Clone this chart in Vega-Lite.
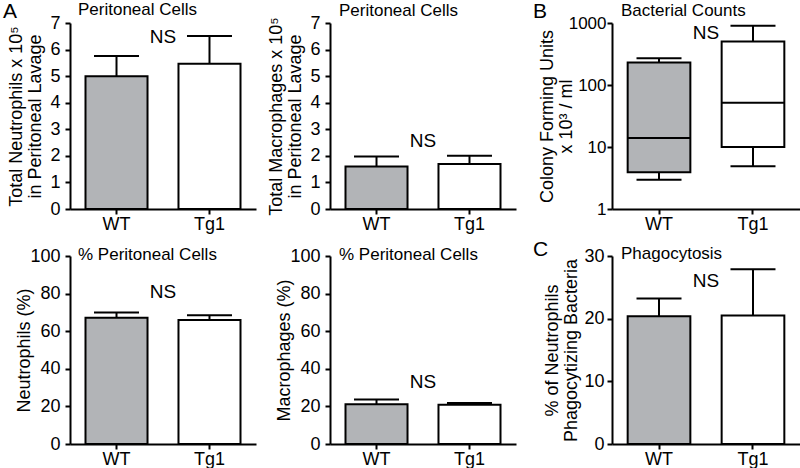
{
  "$schema": "https://vega.github.io/schema/vega-lite/v6.json",
  "background": "white",
  "padding": {"left": 3, "top": 0, "right": 0, "bottom": 0},
  "columns": 5,
  "spacing": {"row": 47, "column": 0},
  "bounds": "flush",
  "align": "each",
  "concat": [
    {
      "width": 186, "height": 186,
      "title": {"text": "Peritoneal Cells", "dx": 8, "offset": -18},
      "data": {"values": [{"group": "WT", "mean": 5.0, "upper": 5.76}, {"group": "Tg1", "mean": 5.47, "upper": 6.51}]},
      "encoding": {"x": {"field": "group", "type": "nominal", "sort": ["WT", "Tg1"], "scale": {"paddingInner": 0.333, "paddingOuter": 0.1667}, "axis": {"title": null}}},
      "layer": [
        {"mark": {"type": "bar", "stroke": "black", "strokeWidth": 2, "opacity": 1}, "encoding": {"y": {"field": "mean", "type": "quantitative", "scale": {"domain": [0, 7]}, "axis": {"title": ["Total Neutrophils x 10⁵", "in Peritoneal Lavage"], "values": [0, 1, 2, 3, 4, 5, 6, 7], "labelOverlap": false}}, "color": {"field": "group", "type": "nominal", "scale": {"domain": ["WT", "Tg1"], "range": ["#b2b4b7", "#ffffff"]}, "legend": null}}},
        {"mark": {"type": "rule", "color": "black", "strokeWidth": 2, "opacity": 1}, "encoding": {"y": {"field": "mean", "type": "quantitative", "axis": {"title": ["Total Neutrophils x 10⁵", "in Peritoneal Lavage"], "values": [0, 1, 2, 3, 4, 5, 6, 7], "labelOverlap": false}}, "y2": {"field": "upper"}}},
        {"mark": {"type": "tick", "color": "black", "thickness": 2, "size": 45, "opacity": 1}, "encoding": {"y": {"field": "upper", "type": "quantitative", "axis": {"title": ["Total Neutrophils x 10⁵", "in Peritoneal Lavage"], "values": [0, 1, 2, 3, 4, 5, 6, 7], "labelOverlap": false}}}},
        {"data": {"values": [{"note": "NS", "pos": 6.49}]}, "mark": {"type": "text", "fontSize": 19, "baseline": "middle", "color": "black"}, "encoding": {"x": {"datum": "WT", "bandPosition": 1.25}, "y": {"field": "pos", "type": "quantitative", "axis": {"title": ["Total Neutrophils x 10⁵", "in Peritoneal Lavage"], "values": [0, 1, 2, 3, 4, 5, 6, 7], "labelOverlap": false}}, "text": {"field": "note"}}},
        {"data": {"values": [{"note": "A", "pos": 7.188}]}, "mark": {"type": "text", "fontSize": 21, "align": "left", "baseline": "alphabetic", "color": "black"}, "encoding": {"x": {"datum": "WT", "bandPosition": -1.33}, "y": {"field": "pos", "type": "quantitative", "axis": {"title": ["Total Neutrophils x 10⁵", "in Peritoneal Lavage"], "values": [0, 1, 2, 3, 4, 5, 6, 7], "labelOverlap": false}}, "text": {"field": "note"}}}
      ]
    },
    {"width": 74, "height": 10, "data": {"values": []}, "mark": {"type": "point", "opacity": 0}, "encoding": {}},
    {
      "width": 186, "height": 186,
      "title": {"text": "Peritoneal Cells", "dx": 9, "offset": -6},
      "data": {"values": [{"group": "WT", "mean": 1.60, "upper": 1.98}, {"group": "Tg1", "mean": 1.69, "upper": 2.0}]},
      "encoding": {"x": {"field": "group", "type": "nominal", "sort": ["WT", "Tg1"], "scale": {"paddingInner": 0.333, "paddingOuter": 0.1667}, "axis": {"title": null}}},
      "layer": [
        {"mark": {"type": "bar", "stroke": "black", "strokeWidth": 2, "opacity": 1}, "encoding": {"y": {"field": "mean", "type": "quantitative", "scale": {"domain": [0, 7]}, "axis": {"title": ["Total Macrophages x 10⁵", "in Peritoneal Lavage"], "values": [0, 1, 2, 3, 4, 5, 6, 7], "labelOverlap": false}}, "color": {"field": "group", "type": "nominal", "scale": {"domain": ["WT", "Tg1"], "range": ["#b2b4b7", "#ffffff"]}, "legend": null}}},
        {"mark": {"type": "rule", "color": "black", "strokeWidth": 2, "opacity": 1}, "encoding": {"y": {"field": "mean", "type": "quantitative", "axis": {"title": ["Total Macrophages x 10⁵", "in Peritoneal Lavage"], "values": [0, 1, 2, 3, 4, 5, 6, 7], "labelOverlap": false}}, "y2": {"field": "upper"}}},
        {"mark": {"type": "tick", "color": "black", "thickness": 2, "size": 45, "opacity": 1}, "encoding": {"y": {"field": "upper", "type": "quantitative", "axis": {"title": ["Total Macrophages x 10⁵", "in Peritoneal Lavage"], "values": [0, 1, 2, 3, 4, 5, 6, 7], "labelOverlap": false}}}},
        {"data": {"values": [{"note": "NS", "pos": 2.56}]}, "mark": {"type": "text", "fontSize": 19, "baseline": "middle", "color": "black"}, "encoding": {"x": {"datum": "WT", "bandPosition": 1.25}, "y": {"field": "pos", "type": "quantitative", "axis": {"title": ["Total Macrophages x 10⁵", "in Peritoneal Lavage"], "values": [0, 1, 2, 3, 4, 5, 6, 7], "labelOverlap": false}}, "text": {"field": "note"}}}
      ]
    },
    {"width": 96, "height": 10, "data": {"values": []}, "mark": {"type": "point", "opacity": 0}, "encoding": {}},
    {
      "width": 188, "height": 186,
      "title": {"text": "Bacterial Counts", "dx": 9, "offset": -19},
      "data": {"values": [{"group": "WT", "min": 2.95, "q1": 3.9, "median": 14, "q3": 230, "max": 270}, {"group": "Tg1", "min": 4.9, "q1": 10, "median": 51.5, "q3": 503, "max": 904}]},
      "encoding": {"x": {"field": "group", "type": "nominal", "sort": ["WT", "Tg1"], "scale": {"paddingInner": 0.333, "paddingOuter": 0.1667}, "axis": {"title": null}}},
      "layer": [
        {"mark": {"type": "rule", "color": "black", "strokeWidth": 2, "opacity": 1}, "encoding": {"y": {"field": "min", "type": "quantitative", "scale": {"type": "log", "domain": [1, 1000]}, "axis": {"title": ["Colony Forming Units", "x 10³ / ml"], "values": [1, 10, 100, 1000], "format": "d", "labelPadding": 1, "labelFontSize": 17, "titlePadding": -7, "labelOverlap": false}}, "y2": {"field": "max"}}},
        {"mark": {"type": "tick", "color": "black", "thickness": 2, "size": 45, "opacity": 1}, "encoding": {"y": {"field": "min", "type": "quantitative", "axis": {"title": ["Colony Forming Units", "x 10³ / ml"], "values": [1, 10, 100, 1000], "format": "d", "labelPadding": 1, "labelFontSize": 17, "titlePadding": -7, "labelOverlap": false}}}},
        {"mark": {"type": "tick", "color": "black", "thickness": 2, "size": 45, "opacity": 1}, "encoding": {"y": {"field": "max", "type": "quantitative", "axis": {"title": ["Colony Forming Units", "x 10³ / ml"], "values": [1, 10, 100, 1000], "format": "d", "labelPadding": 1, "labelFontSize": 17, "titlePadding": -7, "labelOverlap": false}}}},
        {"mark": {"type": "bar", "stroke": "black", "strokeWidth": 2, "opacity": 1}, "encoding": {"y": {"field": "q1", "type": "quantitative", "axis": {"title": ["Colony Forming Units", "x 10³ / ml"], "values": [1, 10, 100, 1000], "format": "d", "labelPadding": 1, "labelFontSize": 17, "titlePadding": -7, "labelOverlap": false}}, "y2": {"field": "q3"}, "color": {"field": "group", "type": "nominal", "scale": {"domain": ["WT", "Tg1"], "range": ["#a7a7a7", "#ffffff"]}, "legend": null}}},
        {"mark": {"type": "tick", "color": "black", "thickness": 2, "size": 63, "opacity": 1}, "encoding": {"y": {"field": "median", "type": "quantitative", "axis": {"title": ["Colony Forming Units", "x 10³ / ml"], "values": [1, 10, 100, 1000], "format": "d", "labelPadding": 1, "labelFontSize": 17, "titlePadding": -7, "labelOverlap": false}}}},
        {"data": {"values": [{"note": "NS", "pos": 701}]}, "mark": {"type": "text", "fontSize": 19, "baseline": "middle", "color": "black"}, "encoding": {"x": {"datum": "WT", "bandPosition": 1.25}, "y": {"field": "pos", "type": "quantitative", "axis": {"title": ["Colony Forming Units", "x 10³ / ml"], "values": [1, 10, 100, 1000], "format": "d", "labelPadding": 1, "labelFontSize": 17, "titlePadding": -7, "labelOverlap": false}}, "text": {"field": "note"}}},
        {"data": {"values": [{"note": "B", "pos": 1205}]}, "mark": {"type": "text", "fontSize": 21, "align": "left", "baseline": "alphabetic", "color": "black"}, "encoding": {"x": {"datum": "WT", "bandPosition": -1.51}, "y": {"field": "pos", "type": "quantitative", "axis": {"title": ["Colony Forming Units", "x 10³ / ml"], "values": [1, 10, 100, 1000], "format": "d", "labelPadding": 1, "labelFontSize": 17, "titlePadding": -7, "labelOverlap": false}}, "text": {"field": "note"}}}
      ]
    },
    {
      "width": 186, "height": 188,
      "title": {"text": "% Peritoneal Cells", "dx": 8, "offset": -16.5},
      "data": {"values": [{"group": "WT", "mean": 67.1, "upper": 70.0}, {"group": "Tg1", "mean": 66.0, "upper": 68.5}]},
      "encoding": {"x": {"field": "group", "type": "nominal", "sort": ["WT", "Tg1"], "scale": {"paddingInner": 0.333, "paddingOuter": 0.1667}, "axis": {"title": null}}},
      "layer": [
        {"mark": {"type": "bar", "stroke": "black", "strokeWidth": 2, "opacity": 1}, "encoding": {"y": {"field": "mean", "type": "quantitative", "scale": {"domain": [0, 100]}, "axis": {"title": "Neutrophils (%)", "values": [0, 20, 40, 60, 80, 100], "titlePadding": -4, "labelOverlap": false}}, "color": {"field": "group", "type": "nominal", "scale": {"domain": ["WT", "Tg1"], "range": ["#b2b4b7", "#ffffff"]}, "legend": null}}},
        {"mark": {"type": "rule", "color": "black", "strokeWidth": 2, "opacity": 1}, "encoding": {"y": {"field": "mean", "type": "quantitative", "axis": {"title": "Neutrophils (%)", "values": [0, 20, 40, 60, 80, 100], "titlePadding": -4, "labelOverlap": false}}, "y2": {"field": "upper"}}},
        {"mark": {"type": "tick", "color": "black", "thickness": 2, "size": 45, "opacity": 1}, "encoding": {"y": {"field": "upper", "type": "quantitative", "axis": {"title": "Neutrophils (%)", "values": [0, 20, 40, 60, 80, 100], "titlePadding": -4, "labelOverlap": false}}}},
        {"data": {"values": [{"note": "NS", "pos": 81}]}, "mark": {"type": "text", "fontSize": 19, "baseline": "middle", "color": "black"}, "encoding": {"x": {"datum": "WT", "bandPosition": 1.25}, "y": {"field": "pos", "type": "quantitative", "axis": {"title": "Neutrophils (%)", "values": [0, 20, 40, 60, 80, 100], "titlePadding": -4, "labelOverlap": false}}, "text": {"field": "note"}}}
      ]
    },
    {"width": 74, "height": 10, "data": {"values": []}, "mark": {"type": "point", "opacity": 0}, "encoding": {}},
    {
      "width": 186, "height": 188,
      "title": {"text": "% Peritoneal Cells", "dx": 9, "offset": -16.5},
      "data": {"values": [{"group": "WT", "mean": 21.2, "upper": 23.7}, {"group": "Tg1", "mean": 20.9, "upper": 21.8}]},
      "encoding": {"x": {"field": "group", "type": "nominal", "sort": ["WT", "Tg1"], "scale": {"paddingInner": 0.333, "paddingOuter": 0.1667}, "axis": {"title": null}}},
      "layer": [
        {"mark": {"type": "bar", "stroke": "black", "strokeWidth": 2, "opacity": 1}, "encoding": {"y": {"field": "mean", "type": "quantitative", "scale": {"domain": [0, 100]}, "axis": {"title": "Macrophages (%)", "values": [0, 20, 40, 60, 80, 100], "titlePadding": -4, "labelOverlap": false}}, "color": {"field": "group", "type": "nominal", "scale": {"domain": ["WT", "Tg1"], "range": ["#b2b4b7", "#ffffff"]}, "legend": null}}},
        {"mark": {"type": "rule", "color": "black", "strokeWidth": 2, "opacity": 1}, "encoding": {"y": {"field": "mean", "type": "quantitative", "axis": {"title": "Macrophages (%)", "values": [0, 20, 40, 60, 80, 100], "titlePadding": -4, "labelOverlap": false}}, "y2": {"field": "upper"}}},
        {"mark": {"type": "tick", "color": "black", "thickness": 2, "size": 45, "opacity": 1}, "encoding": {"y": {"field": "upper", "type": "quantitative", "axis": {"title": "Macrophages (%)", "values": [0, 20, 40, 60, 80, 100], "titlePadding": -4, "labelOverlap": false}}}},
        {"data": {"values": [{"note": "NS", "pos": 33}]}, "mark": {"type": "text", "fontSize": 19, "baseline": "middle", "color": "black"}, "encoding": {"x": {"datum": "WT", "bandPosition": 1.25}, "y": {"field": "pos", "type": "quantitative", "axis": {"title": "Macrophages (%)", "values": [0, 20, 40, 60, 80, 100], "titlePadding": -4, "labelOverlap": false}}, "text": {"field": "note"}}}
      ]
    },
    {"width": 96, "height": 10, "data": {"values": []}, "mark": {"type": "point", "opacity": 0}, "encoding": {}},
    {
      "width": 188, "height": 188,
      "title": {"text": "Phagocytosis", "dx": 9, "offset": -24},
      "data": {"values": [{"group": "WT", "mean": 20.4, "upper": 23.2}, {"group": "Tg1", "mean": 20.5, "upper": 27.9}]},
      "encoding": {"x": {"field": "group", "type": "nominal", "sort": ["WT", "Tg1"], "scale": {"paddingInner": 0.333, "paddingOuter": 0.1667}, "axis": {"title": null}}},
      "layer": [
        {"mark": {"type": "bar", "stroke": "black", "strokeWidth": 2, "opacity": 1}, "encoding": {"y": {"field": "mean", "type": "quantitative", "scale": {"domain": [0, 30]}, "axis": {"title": ["% of Neutrophils", "Phagocytizing Bacteria"], "values": [0, 10, 20, 30], "labelPadding": 3, "titlePadding": 3, "labelOverlap": false}}, "color": {"field": "group", "type": "nominal", "scale": {"domain": ["WT", "Tg1"], "range": ["#a7a7a7", "#ffffff"]}, "legend": null}}},
        {"mark": {"type": "rule", "color": "black", "strokeWidth": 2, "opacity": 1}, "encoding": {"y": {"field": "mean", "type": "quantitative", "axis": {"title": ["% of Neutrophils", "Phagocytizing Bacteria"], "values": [0, 10, 20, 30], "labelPadding": 3, "titlePadding": 3, "labelOverlap": false}}, "y2": {"field": "upper"}}},
        {"mark": {"type": "tick", "color": "black", "thickness": 2, "size": 45, "opacity": 1}, "encoding": {"y": {"field": "upper", "type": "quantitative", "axis": {"title": ["% of Neutrophils", "Phagocytizing Bacteria"], "values": [0, 10, 20, 30], "labelPadding": 3, "titlePadding": 3, "labelOverlap": false}}}},
        {"data": {"values": [{"note": "NS", "pos": 26}]}, "mark": {"type": "text", "fontSize": 19, "baseline": "middle", "color": "black"}, "encoding": {"x": {"datum": "WT", "bandPosition": 1.25}, "y": {"field": "pos", "type": "quantitative", "axis": {"title": ["% of Neutrophils", "Phagocytizing Bacteria"], "values": [0, 10, 20, 30], "labelPadding": 3, "titlePadding": 3, "labelOverlap": false}}, "text": {"field": "note"}}},
        {"data": {"values": [{"note": "C", "pos": 30}]}, "mark": {"type": "text", "fontSize": 21, "align": "left", "baseline": "alphabetic", "color": "black"}, "encoding": {"x": {"datum": "WT", "bandPosition": -1.51}, "y": {"field": "pos", "type": "quantitative", "axis": {"title": ["% of Neutrophils", "Phagocytizing Bacteria"], "values": [0, 10, 20, 30], "labelPadding": 3, "titlePadding": 3, "labelOverlap": false}}, "text": {"field": "note"}}}
      ]
    }
  ],
  "config": {
    "font": "Liberation Sans",
    "view": {"stroke": null},
    "axis": {"domainColor": "black", "domainWidth": 2, "tickColor": "black", "tickWidth": 2, "tickSize": 5, "labelColor": "black", "labelFontSize": 18, "labelOverlap": false, "titleFontSize": 18, "titleFontWeight": "normal", "titleColor": "black", "titleLineHeight": 19, "grid": false, "labelPadding": 5, "titlePadding": 5},
    "axisX": {"labelAngle": 0, "labelPadding": 1, "labelFontSize": 18},
    "title": {"fontSize": 17, "fontWeight": "normal", "anchor": "start", "frame": "group", "color": "black", "baseline": "alphabetic"}
  }
}
